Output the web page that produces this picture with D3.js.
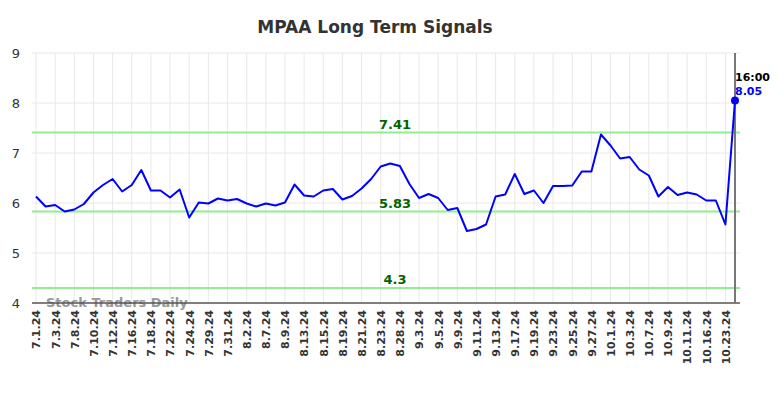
<!DOCTYPE html>
<html>
<head>
<meta charset="utf-8">
<script src="https://cdn.jsdelivr.net/npm/d3@7"></script>
<style>
  body { margin: 0; background: #ffffff; }
  svg { font-family: "DejaVu Sans", sans-serif; }
</style>
</head>
<body>
<div id="chart"></div>
<script>
// DATA

const dates = [
  "7.1.24", "7.2.24", "7.3.24", "7.5.24", "7.8.24", "7.9.24", "7.10.24", "7.11.24",
  "7.12.24", "7.15.24", "7.16.24", "7.17.24", "7.18.24", "7.19.24", "7.22.24", "7.23.24",
  "7.24.24", "7.25.24", "7.29.24", "7.30.24", "7.31.24", "8.1.24", "8.2.24", "8.5.24",
  "8.7.24", "8.8.24", "8.9.24", "8.12.24", "8.13.24", "8.14.24", "8.15.24", "8.16.24",
  "8.19.24", "8.20.24", "8.21.24", "8.22.24", "8.23.24", "8.26.24", "8.28.24", "8.29.24",
  "9.3.24", "9.4.24", "9.5.24", "9.6.24", "9.9.24", "9.10.24", "9.11.24", "9.12.24",
  "9.13.24", "9.16.24", "9.17.24", "9.18.24", "9.19.24", "9.20.24", "9.23.24", "9.24.24",
  "9.25.24", "9.26.24", "9.27.24", "9.30.24", "10.1.24", "10.2.24", "10.3.24", "10.4.24",
  "10.7.24", "10.8.24", "10.9.24", "10.10.24", "10.11.24", "10.14.24", "10.16.24", "10.22.24",
  "10.23.24", "10.24.24"
];

const signal = [
  6.13, 5.93, 5.96, 5.83, 5.87, 5.98, 6.21, 6.36,
  6.48, 6.23, 6.36, 6.66, 6.25, 6.25, 6.11, 6.27,
  5.71, 6.01, 5.99, 6.09, 6.05, 6.08, 5.99, 5.93,
  5.99, 5.95, 6.01, 6.37, 6.15, 6.13, 6.25, 6.28,
  6.07, 6.14, 6.29, 6.48, 6.73, 6.79, 6.74, 6.38,
  6.10, 6.18, 6.10, 5.86, 5.90, 5.44, 5.48, 5.57,
  6.13, 6.17, 6.58, 6.18, 6.25, 6.00, 6.34, 6.34,
  6.35, 6.63, 6.63, 7.37, 7.15, 6.89, 6.92, 6.67,
  6.55, 6.13, 6.32, 6.16, 6.21, 6.17, 6.05, 6.05,
  5.57, 8.05
];

const levels = [7.41, 5.83, 4.3];
const yTicks = [4, 5, 6, 7, 8, 9];
const lastTime = "16:00";

// SETUP

const width = 784, height = 398;
const plot = { left: 32, right: 740, top: 53, bottom: 303 };

const svg = d3.select("#chart")
  .append("svg")
  .attr("width", width)
  .attr("height", height);

const x = d3.scalePoint()
  .domain(dates)
  .range([36, 735]);

const y = d3.scaleLinear()
  .domain([4, 9])
  .range([plot.bottom, plot.top]);

// only every second date gets a label and a grid line
const labelDates = dates.filter((d, i) => i % 2 === 0);

// GRID

svg.append("g")
  .selectAll("line")
  .data(labelDates)
  .join("line")
    .attr("x1", d => x(d))
    .attr("x2", d => x(d))
    .attr("y1", plot.top)
    .attr("y2", plot.bottom)
    .attr("stroke", "#e8e8e8")
    .attr("stroke-width", 1);

svg.append("g")
  .selectAll("line")
  .data(yTicks.filter(t => t > 4))
  .join("line")
    .attr("x1", plot.left)
    .attr("x2", plot.right)
    .attr("y1", d => y(d))
    .attr("y2", d => y(d))
    .attr("stroke", "#e8e8e8")
    .attr("stroke-width", 1);

// Y AXIS LABELS

const yAxis = svg.append("g")
  .attr("transform", `translate(${plot.left},0)`)
  .call(d3.axisLeft(y).tickValues(yTicks).tickFormat(d3.format("d")).tickSize(0).tickPadding(12));
yAxis.select(".domain").remove();
yAxis.selectAll("text")
  .style("font-size", "13px")
  .style("fill", "#333333")
  .style("font-family", '"DejaVu Sans", sans-serif');

// X AXIS

const xAxis = svg.append("g")
  .attr("transform", `translate(0,${plot.bottom})`)
  .call(d3.axisBottom(x).tickValues(labelDates).tickSize(0).tickPadding(0));
xAxis.select(".domain").remove();
xAxis.selectAll("text")
  .attr("transform", "rotate(-90)")
  .attr("x", -7)
  .attr("y", 0)
  .attr("dy", "0.35em")
  .style("text-anchor", "end")
  .style("font-size", "11px")
  .style("font-weight", "bold")
  .style("fill", "#333333")
  .style("font-family", '"DejaVu Sans", sans-serif');

// WATERMARK

svg.append("text")
  .attr("x", 46)
  .attr("y", 307)
  .style("font-size", "13px")
  .style("font-weight", "bold")
  .style("fill", "#999999")
  .text("Stock Traders Daily");

svg.append("line")
  .attr("x1", plot.left)
  .attr("x2", plot.right)
  .attr("y1", plot.bottom)
  .attr("y2", plot.bottom)
  .attr("stroke", "#555555")
  .attr("stroke-width", 1.5);

// SIGNAL LEVELS

levels.forEach(v => {
  svg.append("line")
    .attr("x1", plot.left)
    .attr("x2", plot.right)
    .attr("y1", y(v))
    .attr("y2", y(v))
    .attr("stroke", "#90ee90")
    .attr("stroke-width", 2);

  svg.append("text")
    .attr("x", 395)
    .attr("y", y(v) - 4)
    .style("text-anchor", "middle")
    .style("font-size", "13px")
    .style("font-weight", "bold")
    .style("fill", "#006400")
    .text(v);
});

// LAST VALUE MARKER

const lastDate = dates[dates.length - 1];
const lastVal = signal[signal.length - 1];

svg.append("line")
  .attr("x1", x(lastDate))
  .attr("x2", x(lastDate))
  .attr("y1", plot.top)
  .attr("y2", plot.bottom)
  .attr("stroke", "#777777")
  .attr("stroke-width", 2);

// LINE

const line = d3.line()
  .x((d, i) => x(dates[i]))
  .y(d => y(d));

svg.append("path")
  .datum(signal)
  .attr("fill", "none")
  .attr("stroke", "#0000ff")
  .attr("stroke-width", 2)
  .attr("stroke-linejoin", "round")
  .attr("d", line);

svg.append("circle")
  .attr("cx", x(lastDate))
  .attr("cy", y(lastVal))
  .attr("r", 4)
  .attr("fill", "#0000ff");

svg.append("text")
  .attr("x", x(lastDate))
  .attr("y", 81)
  .style("font-size", "11px")
  .style("font-weight", "bold")
  .style("fill", "#000000")
  .text(lastTime);

svg.append("text")
  .attr("x", x(lastDate))
  .attr("y", 95)
  .style("font-size", "11px")
  .style("font-weight", "bold")
  .style("fill", "#0000ff")
  .text(lastVal.toFixed(2));

// TITLE

svg.append("text")
  .attr("x", 375)
  .attr("y", 33)
  .style("text-anchor", "middle")
  .style("font-size", "17px")
  .style("font-weight", "bold")
  .style("fill", "#333333")
  .text("MPAA Long Term Signals");
</script>
</body>
</html>
